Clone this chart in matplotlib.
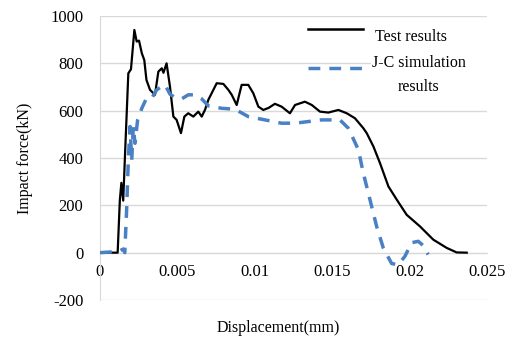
import matplotlib
matplotlib.use("Agg")
import matplotlib.pyplot as plt
from matplotlib.patches import Rectangle

# ---- data ----
test_x = [0, 0.00114, 0.00128, 0.00138, 0.0015, 0.00162, 0.00183, 0.002, 0.0021, 0.00222,
          0.00237, 0.00252, 0.0027, 0.00286, 0.003, 0.00323, 0.00355, 0.00377, 0.00399, 0.0041,
          0.0043, 0.00452, 0.00474, 0.00495, 0.00523, 0.00545, 0.0057, 0.00603, 0.00635, 0.00657,
          0.00678, 0.007, 0.00754, 0.00797, 0.00829, 0.00851, 0.00883, 0.00915, 0.00958, 0.0099,
          0.01023, 0.01055, 0.0109, 0.0113, 0.01173, 0.01227, 0.0126, 0.01324, 0.01368, 0.01421,
          0.01475, 0.0154, 0.01594, 0.01647, 0.01701, 0.01723, 0.01766, 0.01809, 0.01863, 0.01917,
          0.01981, 0.02067, 0.02153, 0.0224, 0.02304, 0.02369]
test_y = [0, 0, 220, 295, 220, 420, 758, 775, 850, 941,
          892, 896, 843, 814, 730, 688, 667, 765, 779, 760,
          800, 702, 575, 561, 505, 575, 589, 575, 596, 575,
          603, 646, 716, 713, 688, 667, 624, 709, 709, 674,
          617, 603, 612, 629, 617, 589, 624, 638, 624, 596,
          592, 603, 589, 568, 526, 505, 449, 378, 280, 224,
          160, 111, 55, 20, 1, 0]

jc_x = [0, 0.00118, 0.0015, 0.0016, 0.00172, 0.00183, 0.00194, 0.00205, 0.00215, 0.00226,
        0.00243, 0.0027, 0.003, 0.00334, 0.00366, 0.00399, 0.0042, 0.00452, 0.00485, 0.00528,
        0.0057, 0.00614, 0.00657, 0.007, 0.00786, 0.00872, 0.00958, 0.01066, 0.01173, 0.0126,
        0.01346, 0.01432, 0.01497, 0.0155, 0.01604, 0.0163, 0.01669, 0.01701, 0.01744, 0.01787,
        0.0183, 0.01884, 0.01927, 0.0197, 0.02013, 0.02056, 0.02088, 0.0212]
jc_y = [0, 5, 15, 0, 181, 392, 533, 392, 533, 462,
        561, 610, 652, 652, 688, 702, 709, 670, 655, 650,
        667, 667, 650, 620, 610, 606, 575, 561, 547, 547,
        554, 561, 561, 561, 526, 490, 435, 336, 224, 111,
        20, -46, -51, -15, 42, 48, 30, -8]

x_ticks = [0, 0.005, 0.01, 0.015, 0.02, 0.025]
x_tick_labels = ["0", "0.005", "0.01", "0.015", "0.02", "0.025"]
y_ticks = [-200, 0, 200, 400, 600, 800, 1000]
y_tick_labels = ["-200", "0", "200", "400", "600", "800", "1000"]

series_labels = ["Test results", "J-C simulation", "results"]

# ---- figure ----
plt.rcParams['font.family'] = ['Liberation Serif', 'DejaVu Serif']
fig = plt.figure(figsize=(5.09, 3.38), dpi=100)
ax = fig.add_axes([100/509, 1 - 300/338, 387/509, 284/338])

grid_c = '#D9D9D9'
blue = '#4A80C4'
ax.set_xlim(0, 0.025)
ax.set_ylim(-200, 1000)
ax.set_yticks(y_ticks)
ax.set_yticklabels(y_tick_labels)
ax.set_xticks(x_ticks)
ax.set_xticklabels(x_tick_labels)
ax.yaxis.grid(True, color=grid_c, linewidth=1.0)
ax.set_axisbelow(True)
for s in ['top', 'right']:
    ax.spines[s].set_visible(False)
ax.spines['left'].set_color(grid_c)
ax.spines['bottom'].set_position(('data', 0))
ax.spines['bottom'].set_color(grid_c)
ax.tick_params(axis='both', length=0, labelsize=12, colors='black')
ax.tick_params(axis='y', pad=12)
ax.tick_params(axis='x', pad=8.5)

ax.plot(test_x, test_y, color='black', linewidth=1.6, zorder=3)
ax.plot(jc_x, jc_y, color=blue, linewidth=2.5, dashes=(3.4, 2.6), zorder=4)

# legend area (white box, as in reference)
ax.add_patch(Rectangle((0.70, 0.704), 0.30, 0.282, transform=ax.transAxes,
                       facecolor='white', edgecolor='none', zorder=2))
ax.plot([0.537, 0.680], [0.954, 0.954], transform=ax.transAxes,
        color='black', linewidth=1.8, zorder=5)
ax.plot([0.537, 0.680], [0.817, 0.817], transform=ax.transAxes,
        color=blue, linewidth=2.5, dashes=(3.4, 2.6), zorder=5)
ax.text(0.711, 0.926, series_labels[0], transform=ax.transAxes,
        fontsize=11.5, va='center', ha='left', zorder=6)
ax.text(0.703, 0.835, series_labels[1], transform=ax.transAxes,
        fontsize=11.5, va='center', ha='left', zorder=6)
ax.text(0.822, 0.750, series_labels[2], transform=ax.transAxes,
        fontsize=11.5, va='center', ha='center', zorder=6)

fig.text(25/509, 1 - 158/338, "Impact force(kN)", rotation=90,
         fontsize=11.5, ha='center', va='center')
fig.text(278/509, 1 - 328/338, "Displacement(mm)",
         fontsize=11.5, ha='center', va='center')

fig.savefig("out.png", dpi=100)
